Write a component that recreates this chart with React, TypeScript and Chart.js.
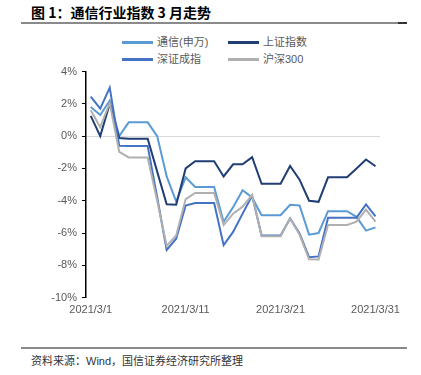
import React, { useEffect, useRef } from "react";
import { Chart, registerables } from "chart.js";

Chart.register(...registerables);

const dates: string[] = Array.from({ length: 31 }, (_, i) => `2021/3/${i + 1}`);
const shownDateLabels = ["2021/3/1", "2021/3/11", "2021/3/21", "2021/3/31"];

const seriesNames = ["通信(申万)", "上证指数", "深证成指", "沪深300"];
const seriesColors = ["#5B9BD5", "#203E74", "#4472C4", "#B0B0B0"];

const tongxin = [1.8, 1.3, 2.2, 0.0, 0.85, 0.85, 0.85, 0.0, -2.5, -4.05, -2.55, -3.15, -3.15, -3.15, -5.3, -4.4, -3.35, -3.8, -4.9, -4.9, -4.9, -4.25, -4.3, -6.1, -6.0, -4.65, -4.65, -4.65, -5.0, -5.85, -5.65];
const shangzheng = [1.25, 0.0, 2.0, -0.12, -0.17, -0.17, -0.17, -2.2, -4.22, -4.25, -2.0, -1.55, -1.55, -1.55, -2.5, -1.75, -1.75, -1.3, -2.95, -2.95, -2.95, -1.85, -2.7, -4.0, -4.07, -2.55, -2.55, -2.55, -2.0, -1.45, -1.87];
const shenzheng = [2.45, 1.7, 3.0, -0.6, -0.62, -0.62, -0.62, -3.8, -7.05, -6.35, -4.3, -4.15, -4.15, -4.15, -6.75, -5.93, -4.8, -3.7, -6.15, -6.15, -6.15, -5.1, -6.03, -7.5, -7.45, -5.05, -5.05, -5.05, -5.05, -4.23, -4.97];
const hushen300 = [1.6, 0.55, 2.05, -0.97, -1.32, -1.32, -1.32, -4.0, -6.8, -6.15, -3.9, -3.52, -3.52, -3.52, -5.5, -4.8, -4.37, -3.65, -6.2, -6.2, -6.2, -5.1, -6.1, -7.62, -7.64, -5.5, -5.5, -5.5, -5.3, -4.55, -5.3];

const seriesValues = [tongxin, shangzheng, shenzheng, hushen300];

const FONT = "'Liberation Sans', 'Noto Sans CJK SC', sans-serif";

export default function App() {
  const canvasRef = useRef<HTMLCanvasElement | null>(null);

  useEffect(() => {
    if (!canvasRef.current) return;
    const chart = new Chart(canvasRef.current, {
      type: "line",
      data: {
        labels: dates,
        datasets: seriesNames.map((name, i) => ({
          label: name,
          data: seriesValues[i],
          borderColor: seriesColors[i],
          backgroundColor: seriesColors[i],
          borderWidth: 2,
          pointRadius: 0,
          tension: 0,
          fill: false,
          order: 3 - i,
        })),
      },
      options: {
        animation: false,
        responsive: false,
        maintainAspectRatio: false,
        layout: { padding: { left: 0, right: 40.75, top: 16.5, bottom: 0 } },
        plugins: {
          legend: { display: false },
          tooltip: { enabled: false },
          title: { display: false },
        },
        scales: {
          x: {
            type: "category",
            offset: true,
            grid: { display: false, drawTicks: false },
            border: { display: false },
            ticks: {
              autoSkip: false,
              maxRotation: 0,
              minRotation: 0,
              padding: 6,
              color: "#595959",
              font: { family: FONT, size: 11 },
              callback: (_v: any, idx: number) =>
                shownDateLabels.includes(dates[idx]) ? dates[idx] : "",
            },
            afterFit: (s: any) => {
              s.height = 37.4;
            },
          },
          y: {
            min: -10,
            max: 4,
            ticks: {
              stepSize: 2,
              padding: 5,
              color: "#595959",
              font: { family: FONT, size: 11 },
              callback: (v: any) => `${v}%`,
            },
            grid: {
              drawOnChartArea: true,
              color: (ctx: any) => (ctx.tick && ctx.tick.value === 0 ? "#D9D9D9" : "rgba(0,0,0,0)"),
              tickColor: "#000000",
              tickLength: 4,
              lineWidth: 1,
            },
            border: { display: true, color: "#000000", width: 1.5 },
            afterFit: (s: any) => {
              s.width = 86;
            },
          },
        },
      },
    });
    return () => chart.destroy();
  }, []);

  const legendPos = [
    { x: 122, y: 42 },
    { x: 228, y: 42 },
    { x: 122, y: 59 },
    { x: 228, y: 59 },
  ];

  return (
    <div
      style={{
        position: "fixed",
        left: 0,
        top: 0,
        width: 421,
        height: 375,
        background: "#ffffff",
        overflow: "hidden",
        fontFamily: FONT,
      }}
    >
      <div
        style={{
          position: "absolute",
          left: 31,
          top: 2,
          fontSize: 14,
          lineHeight: "20px",
          fontWeight: 700,
          fontFamily: "'Noto Sans CJK SC', sans-serif",
          color: "#000",
          whiteSpace: "nowrap",
        }}
      >
        图 1：通信行业指数 3 月走势
      </div>
      <div style={{ position: "absolute", left: 21, top: 22, width: 386, height: 1.5, background: "#8a8a8a" }} />
      <div style={{ position: "absolute", left: 398, top: 21.5, width: 9, height: 2, background: "#333" }} />

      {seriesNames.map((name, i) => (
        <React.Fragment key={name}>
          <div
            style={{
              position: "absolute",
              left: legendPos[i].x,
              top: legendPos[i].y - 1,
              width: 31,
              height: 2.5,
              background: seriesColors[i],
            }}
          />
          <div
            style={{
              position: "absolute",
              left: legendPos[i].x + 35,
              top: legendPos[i].y - 7,
              fontSize: 11,
              lineHeight: "14px",
              color: "#595959",
              whiteSpace: "nowrap",
              fontFamily: FONT,
            }}
          >
            {name}
          </div>
        </React.Fragment>
      ))}

      <canvas
        ref={canvasRef}
        width={421}
        height={280}
        style={{ position: "absolute", left: 0, top: 55, width: 421, height: 280 }}
      />

      <div style={{ position: "absolute", left: 21, top: 346.5, width: 386, height: 2, background: "#8a8a8a" }} />
      <div
        style={{
          position: "absolute",
          left: 31,
          top: 354,
          fontSize: 11,
          lineHeight: "14px",
          color: "#333",
          whiteSpace: "nowrap",
          fontFamily: FONT,
        }}
      >
        资料来源：Wind，国信证券经济研究所整理
      </div>
    </div>
  );
}
